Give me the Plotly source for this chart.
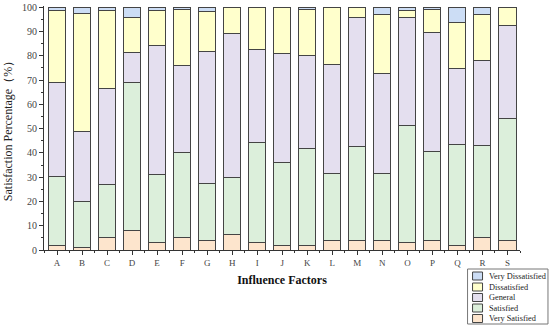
import plotly.graph_objects as go

categories = list("ABCDEFGHIJKLMNOPQRS")
very_satisfied = [1.8, 1.1, 5.1, 8.2, 3.0, 5.2, 4.1, 6.4, 3.1, 1.9, 1.8, 4.1, 4.1, 4.1, 3.0, 4.1, 1.8, 5.2, 4.1]
satisfied = [28.4, 18.7, 21.8, 60.9, 28.0, 34.8, 23.2, 23.4, 41.2, 34.0, 39.9, 27.5, 38.5, 27.5, 48.2, 36.3, 41.8, 38.0, 49.9]
general = [38.9, 29.0, 39.5, 12.3, 53.2, 36.2, 54.5, 59.4, 38.2, 45.0, 38.6, 45.0, 53.0, 40.9, 44.4, 49.1, 31.1, 34.8, 38.6]
dissatisfied = [29.5, 48.7, 32.4, 14.4, 14.4, 22.7, 16.6, 10.8, 17.5, 19.1, 18.6, 23.4, 4.4, 24.4, 3.0, 9.5, 19.2, 18.9, 7.4]
very_dissatisfied = [1.4, 2.5, 1.2, 4.2, 1.4, 1.1, 1.6, 0.0, 0.0, 0.0, 1.1, 0.0, 0.0, 3.1, 1.4, 1.0, 6.1, 3.1, 0.0]

series = [
    ("Very Satisfied", very_satisfied, "#FDE5CD"),
    ("Satisfied", satisfied, "#DCEFDB"),
    ("General", general, "#E4DFEF"),
    ("Dissatisfied", dissatisfied, "#FFFFCC"),
    ("Very Dissatisfied", very_dissatisfied, "#CCDDF5"),
]

W, H = 550, 328
ML, MR, MT, MB = 44, 29.5, 6, 78
PW, PH = W - ML - MR, H - MT - MB

def px_x(p):
    return (p - ML) / PW

def px_y(p):
    return (H - MB - p) / PH

xpos = list(range(len(categories)))

fig = go.Figure()
for name, vals, col in series:
    fig.add_trace(go.Bar(
        x=xpos, y=vals, name=name, width=0.68,
        marker=dict(color=col, line=dict(color="#444444", width=1)),
        showlegend=False,
    ))

font_family = "Liberation Serif, Times New Roman, serif"

# manual legend (box + swatches + labels), listed top to bottom
shapes = [dict(type="rect", xref="paper", yref="paper",
               x0=px_x(468), x1=px_x(548.5), y0=px_y(269), y1=px_y(324),
               line=dict(color="#777777", width=1), fillcolor="white", layer="above")]
annotations = []
legend_rows = [276, 287, 297.5, 308, 318.5]
for (name, vals, col), cy in zip(reversed(series), legend_rows):
    shapes.append(dict(type="rect", xref="paper", yref="paper",
                       x0=px_x(473), x1=px_x(483), y0=px_y(cy - 4), y1=px_y(cy + 4),
                       line=dict(color="#444444", width=1), fillcolor=col, layer="above"))
    annotations.append(dict(xref="paper", yref="paper", x=px_x(487), y=px_y(cy),
                            xanchor="left", yanchor="middle", text=name, showarrow=False,
                            font=dict(size=8.3, family=font_family, color="#222222")))

fig.update_layout(
    width=W, height=H,
    barmode="stack",
    paper_bgcolor="white", plot_bgcolor="white",
    margin=dict(l=ML, r=MR, t=MT, b=MB, autoexpand=False),
    font=dict(family=font_family, size=10, color="#333333"),
    showlegend=False,
    shapes=shapes,
    annotations=annotations,
    xaxis=dict(
        range=[-0.52, 18.5],
        tickmode="array", tickvals=xpos, ticktext=categories,
        showline=True, linecolor="#333333", linewidth=1,
        ticks="outside", ticklen=4, tickcolor="#333333",
        minor=dict(ticks="outside", ticklen=2, tick0=0.5, dtick=1, tickcolor="#333333"),
        showgrid=False, zeroline=False,
        title=dict(text="<b>Influence Factors</b>", font=dict(size=12, color="#111111", family=font_family), standoff=8),
        tickfont=dict(size=9, color="#444444"),
    ),
    yaxis=dict(
        range=[0, 100.5],
        tickmode="linear", tick0=0, dtick=10,
        showline=True, linecolor="#333333", linewidth=1,
        ticks="outside", ticklen=4, tickcolor="#333333",
        minor=dict(ticks="outside", ticklen=2, dtick=5, tickcolor="#333333"),
        showgrid=False, zeroline=False,
        title=dict(text="Satisfaction Percentage（%）", font=dict(size=12, color="#222222", family=font_family), standoff=6),
        tickfont=dict(size=10, color="#444444"),
    ),
)

fig.write_html("out.html", config={"displayModeBar": False},
               post_script="document.body.style.margin='0';document.body.style.overflow='hidden';")
